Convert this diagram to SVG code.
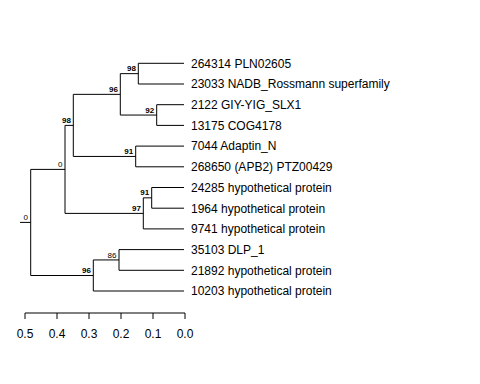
<svg xmlns="http://www.w3.org/2000/svg" width="480" height="384" viewBox="0 0 480 384">
<style>
.e{stroke:#000;stroke-width:1;fill:none}
.t{font-family:"Liberation Sans",Arial,sans-serif;font-size:12px;fill:#000}
.b{font-family:"Liberation Sans",Arial,sans-serif;font-size:8px;fill:#000;text-anchor:end}
.bb{font-weight:bold}
.s{font-family:"Liberation Sans",Arial,sans-serif;font-size:12px;fill:#000;text-anchor:middle}
</style>
<rect width="480" height="384" fill="#fff"/>
<g id="connectors" class="e">
<path d="M20,222.4H30.7M30.7,169.4V275.5M30.7,169.4H65M30.7,275.5H93.3"/>
<path d="M65,125.4V213.4M65,125.4H73.3M65,213.4H143.3"/>
<path d="M73.3,94.35V156.45M73.3,94.35H120.3M73.3,156.45H135.7"/>
<path d="M120.3,73.65V115.05M120.3,73.65H138.3M120.3,115.05H156.7"/>
<path d="M138.3,63.3V84M138.3,63.3H184M138.3,84H184"/>
<path d="M156.7,104.7V125.4M156.7,104.7H184M156.7,125.4H184"/>
<path d="M135.7,146.1V166.8M135.7,146.1H184M135.7,166.8H184"/>
<path d="M143.3,197.85V228.9M143.3,197.85H151.7M143.3,228.9H184"/>
<path d="M151.7,187.5V208.2M151.7,187.5H184M151.7,208.2H184"/>
<path d="M93.3,259.95V291M93.3,259.95H119M93.3,291H184"/>
<path d="M119,249.6V270.3M119,249.6H184M119,270.3H184"/>
</g>
<g id="tips" class="t">
<text id="tip1" x="191" y="67.6">264314 PLN02605</text>
<text id="tip2" x="191" y="88.3">23033 NADB_Rossmann superfamily</text>
<text id="tip3" x="191" y="109">2122 GIY-YIG_SLX1</text>
<text id="tip4" x="191" y="129.7">13175 COG4178</text>
<text id="tip5" x="191" y="150.4">7044 Adaptin_N</text>
<text id="tip6" x="191" y="171.1">268650 (APB2) PTZ00429</text>
<text id="tip7" x="191" y="191.8">24285 hypothetical protein</text>
<text id="tip8" x="191" y="212.5">1964 hypothetical protein</text>
<text id="tip9" x="191" y="233.2">9741 hypothetical protein</text>
<text id="tip10" x="191" y="253.9">35103 DLP_1</text>
<text id="tip11" x="191" y="274.6">21892 hypothetical protein</text>
<text id="tip12" x="191" y="295.3">10203 hypothetical protein</text>
</g>
<g id="support">
<text class="b" x="28" y="220">0</text>
<text class="b" x="62.5" y="167">0</text>
<text class="b bb" x="71" y="123">98</text>
<text class="b bb" x="118" y="92">96</text>
<text class="b bb" x="136" y="71.2">98</text>
<text class="b bb" x="154.2" y="113">92</text>
<text class="b bb" x="133.2" y="154">91</text>
<text class="b bb" x="141" y="211">97</text>
<text class="b bb" x="149.2" y="195.4">91</text>
<text class="b bb" x="91" y="273">96</text>
<text class="b" x="116.5" y="257.5">86</text>
</g>
<g id="scale">
<path class="e" d="M25,313H185M25,313V319M57,313V319M89,313V319M121,313V319M153,313V319M185,313V319"/>
<text class="s" x="25" y="338">0.5</text>
<text class="s" x="57" y="338">0.4</text>
<text class="s" x="89" y="338">0.3</text>
<text class="s" x="121" y="338">0.2</text>
<text class="s" x="153" y="338">0.1</text>
<text class="s" x="185" y="338">0.0</text>
</g>
</svg>
